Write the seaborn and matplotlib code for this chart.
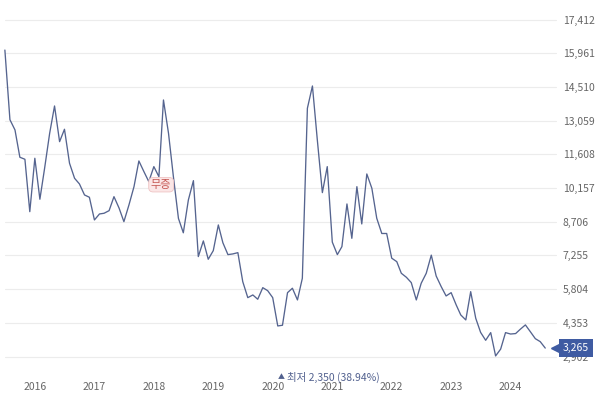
# Import libraries
import pandas as pd
import matplotlib.pyplot as plt
import matplotlib.dates as mdates
from matplotlib.transforms import blended_transform_factory
import seaborn as sns

# Monthly closing price
price = [16100, 13100, 12660, 11483, 11397, 9140, 11440, 9675, 11010, 12516,
         13692, 12155, 12689, 11225, 10578, 10333, 9860, 9760, 8783, 9041,
         9071, 9183, 9786, 9300, 8710, 9429, 10217, 11324, 10863, 10433,
         11080, 10647, 13950, 12516, 10647, 8850, 8230, 9645, 10476, 7205,
         7880, 7090, 7462, 8568, 7800, 7290, 7320, 7375, 6126, 5437,
         5553, 5368, 5867, 5738, 5437, 4218, 4248, 5652, 5842, 5338,
         6272, 13593, 14553, 12229, 9960, 11080, 7830, 7290, 7634, 9472,
         7992, 10217, 8611, 10764, 10146, 8856, 8200, 8200, 7136, 6987,
         6486, 6314, 6085, 5338, 6056, 6486, 7268, 6370, 5910, 5510,
         5652, 5123, 4692, 4477, 5695, 4549, 3940, 3600, 3931, 2927,
         3220, 3931, 3870, 3890, 4078, 4263, 3974, 3670, 3543, 3265]
years = [2016, 2017, 2018, 2019, 2020, 2021, 2022, 2023, 2024]
y_ticks = [2902, 4353, 5804, 7255, 8706, 10157, 11608, 13059, 14510, 15961, 17412]
event_label = "무증"
event_date = "2018-02-15"
event_value = 10300
low_label = "최저 2,350 (38.94%)"

dates = pd.date_range("2015-07-01", periods=len(price), freq="MS")
df = pd.DataFrame({"date": dates, "price": price})

sns.set_style("white")
plt.rcParams["font.family"] = ["Noto Sans CJK KR", "DejaVu Sans"]

fig = plt.figure(figsize=(6, 3.99), dpi=100)
ax = fig.add_axes([0, 0.1065, 556 / 600, 0.8444])

# light horizontal grid
for v in y_ticks:
    ax.axhline(v, xmin=5 / 556, xmax=1, color="#ececec", lw=0.8, zorder=0, clip_on=False)

sns.lineplot(data=df, x="date", y="price", color="#55648f", linewidth=0.95, ax=ax)

x0 = mdates.date2num(pd.Timestamp("2015-07-01"))
ax.set_xlim(x0 - 30, x0 + 3385)
ax.set_ylim(y_ticks[0], y_ticks[-1])

ax.set_xticks([pd.Timestamp(f"{y}-01-01") for y in years])
ax.set_xticklabels([str(y) for y in years])
ax.yaxis.tick_right()
ax.set_yticks(y_ticks)
ax.set_yticklabels([f"{v:,}" for v in y_ticks])
ax.tick_params(axis="y", length=0, pad=5, labelsize=7.5, labelcolor="#666666")
ax.tick_params(axis="x", length=0, pad=18.5, labelsize=7.5, labelcolor="#666666")
ax.set_xlabel("")
ax.set_ylabel("")
sns.despine(ax=ax, left=True, bottom=True, right=True, top=True)

# event marker
ax.text(pd.Timestamp(event_date), event_value, event_label, fontsize=8,
        color="#c65a55", ha="center", va="center", zorder=5,
        bbox=dict(boxstyle="round,pad=0.2,rounding_size=0.4", fc="#fbe6e6", ec="#efc4c4", lw=0.6))

# last value tag on the right
tr = blended_transform_factory(ax.transAxes, ax.transData)
ax.plot([1.006], [price[-1]], marker="<", ms=11.5, color="#3f5ba2", transform=tr,
        clip_on=False, zorder=6)
ax.text(1.0126, price[-1], f"{price[-1]:,}", transform=tr, fontsize=7.5, color="white",
        ha="left", va="center", zorder=7, clip_on=False,
        bbox=dict(boxstyle="square,pad=0.35", fc="#3f5ba2", ec="none"))

# low annotation
ax.text(0.499, -0.061, "▲", transform=ax.transAxes, fontsize=5, color="#52618f",
        ha="left", va="center")
ax.text(0.517, -0.061, low_label, transform=ax.transAxes, fontsize=7.5, color="#52618f",
        ha="left", va="center", fontweight="medium")

fig.savefig("out.png", dpi=100)
